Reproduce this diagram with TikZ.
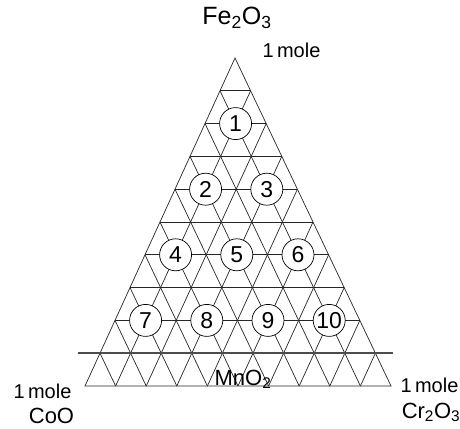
\documentclass[tikz,border=0pt]{standalone}
\usepackage{fontspec}
\setmainfont{Liberation Sans}
\usetikzlibrary{calc}

\begin{document}
\begin{tikzpicture}[x=1pt, y=-1pt, every node/.style={inner sep=0pt},
  grid/.style={line width=0.7pt, black!85},
  spot/.style={circle, draw, line width=0.7pt, fill=white, minimum size=32pt, font=\fontsize{23}{23}\selectfont},
  formula/.style={anchor=base, font=\fontsize{22}{22}\selectfont},
  amount/.style={anchor=base, font=\fontsize{20}{20}\selectfont}]
\useasboundingbox (0,0) rectangle (460,428);
% corners of the triangle
\coordinate (A) at (235,58);
\coordinate (L) at (85,386);
\coordinate (R) at (391,386);
\foreach \k in {1,...,10} {
  \coordinate (l\k) at ($(A)!\k/10!(L)$);
  \coordinate (r\k) at ($(A)!\k/10!(R)$);
  \coordinate (b\k) at ($(L)!\k/10!(R)$);
}
% ternary grid
\foreach \k in {1,...,9} {
  \pgfmathtruncatemacro\m{10-\k}
  \draw[grid] (l\k) -- (r\k);
  \draw[grid] (r\k) -- (b\k);
  \draw[grid] (l\k) -- (b\m);
}
\draw[grid] (A) -- (L) -- (R) -- cycle;
% MnO2 line
\coordinate (tl) at ($(l9)+(-22,0)$);
\coordinate (tr) at ($(r9)+(18,0)$);
\draw[line width=1.6pt, black!70] (tl) -- (tr);
% compositions
\foreach \n/\k/\j in {1/2/1,2/4/1,3/4/3,4/6/1,5/6/3,6/6/5,7/8/1,8/8/3,9/8/5,10/8/7} {
  \node[spot] (c\n) at ($(l\k)!\j/\k!(r\k)$) {\n};
}
% end members
\node[formula, font=\fontsize{25}{25}\selectfont] (fe) at (237,25) {Fe\textsubscript{2}O\textsubscript{3}};
\node[amount] (fem) at (291.5,57) {1\,mole};
\node[amount] (com) at (42.5,398) {1\,mole};
\node[formula] (co) at (51.5,423) {CoO};
\node[amount] (crm) at (429.5,392) {1\,mole};
\node[formula] (cr) at (431,418) {Cr\textsubscript{2}O\textsubscript{3}};
\node[formula] (mn) at (243,385) {MnO\textsubscript{2}};
\end{tikzpicture}
\end{document}
